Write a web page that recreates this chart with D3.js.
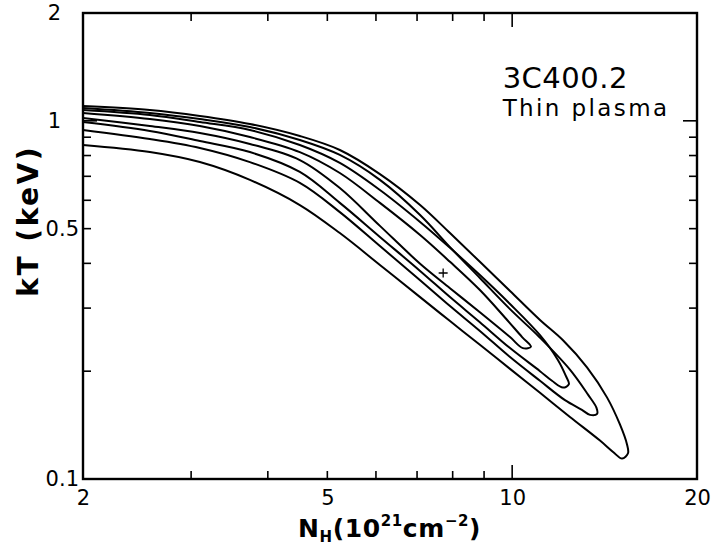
<!DOCTYPE html>
<html>
<head>
<meta charset="utf-8">
<script src="https://cdn.jsdelivr.net/npm/d3@7"></script>
<style>
  body { margin: 0; background: #fff; }
  svg { display: block; font-family: "DejaVu Sans", sans-serif; }
</style>
</head>
<body>
<div id="chart"></div>
<script>
// confidence contours, N_H in 10^21 cm^-2 and kT in keV
// each one runs along the upper branch to the tip, then back along the lower branch
const c1NH = [2.00, 2.57, 3.10, 3.74, 4.51, 5.24, 6.09, 7.08, 7.92, 8.86, 9.74, 10.38, 10.73,
              10.41, 9.92, 8.86, 7.92, 7.08, 6.09, 5.24, 4.51, 3.74, 3.10, 2.57, 2.00]
const c1KT = [1.052, 1.012, 0.967, 0.901, 0.818, 0.715, 0.590, 0.480, 0.404, 0.337, 0.282, 0.249, 0.234,
              0.232, 0.249, 0.292, 0.341, 0.399, 0.509, 0.649, 0.777, 0.862, 0.925, 0.967, 1.018]

const c2NH = [2.00, 2.57, 3.10, 3.74, 4.51, 5.24, 6.09, 7.08, 7.92, 8.86, 9.92, 11.10, 11.87, 12.23, 12.37,
              12.10, 11.61, 11.10, 9.92, 8.86, 7.92, 7.08, 6.09, 5.24, 4.51, 3.74, 3.10, 2.57, 2.00]
const c2KT = [1.072, 1.038, 0.992, 0.943, 0.856, 0.763, 0.641, 0.522, 0.442, 0.371, 0.308, 0.252, 0.215, 0.194, 0.184,
              0.180, 0.188, 0.200, 0.232, 0.274, 0.322, 0.381, 0.474, 0.590, 0.720, 0.818, 0.878, 0.937, 0.992]

const c3NH = [2.00, 2.57, 3.10, 3.74, 4.51, 5.24, 6.09, 7.08, 7.92, 8.86, 9.92, 11.10, 12.42, 13.29, 13.72, 13.75,
              13.39, 12.99, 12.19, 11.10, 9.92, 8.86, 7.92, 7.08, 6.09, 5.24, 4.51, 3.74, 3.10, 2.57, 2.00]
const c3KT = [1.086, 1.052, 1.012, 0.961, 0.884, 0.803, 0.684, 0.546, 0.444, 0.364, 0.298, 0.248, 0.202, 0.172, 0.158, 0.152,
              0.151, 0.156, 0.166, 0.188, 0.219, 0.259, 0.304, 0.359, 0.447, 0.556, 0.671, 0.767, 0.840, 0.890, 0.943]

const c4NH = [2.00, 2.57, 3.10, 3.74, 4.51, 5.24, 6.09, 7.08, 7.92, 8.86, 9.92, 11.10, 12.10, 13.24, 14.27, 14.98, 15.38, 15.44,
              15.10, 14.60, 13.90, 12.42, 11.10, 9.92, 8.86, 7.92, 7.08, 6.09, 5.24, 4.51, 3.74, 3.10, 2.57, 2.00]
const c4KT = [1.100, 1.072, 1.032, 0.980, 0.907, 0.829, 0.710, 0.582, 0.486, 0.404, 0.335, 0.278, 0.244, 0.205, 0.169, 0.142, 0.125, 0.118,
              0.114, 0.119, 0.128, 0.149, 0.174, 0.203, 0.237, 0.276, 0.322, 0.396, 0.486, 0.582, 0.684, 0.767, 0.818, 0.856]

const bestFit = { nh: 7.72, kt: 0.376 }

const xLabels = [2, 5, 10, 20]
const xMinor = [3, 4, 5, 6, 7, 8, 9]
const xMajor = [10]
const yLabels = [0.1, 0.5, 1, 2]
const yMinor = [0.2, 0.3, 0.4, 0.5, 0.6, 0.7, 0.8, 0.9]
const yMajor = [1]

const W = 723, H = 549
const margin = { top: 13, right: 26, bottom: 70, left: 83 }
const width = W - margin.left - margin.right
const height = H - margin.top - margin.bottom

const svg = d3.select("#chart").append("svg")
    .attr("width", W)
    .attr("height", H)

const g = svg.append("g")
    .attr("transform", `translate(${margin.left},${margin.top})`)

const x = d3.scaleLog().domain([2, 20]).range([0, width])
const y = d3.scaleLog().domain([0.1, 2]).range([height, 0])

// ticks, all pointing inward
const minorLen = 8, majorLen = 14
const tickG = g.append("g").attr("stroke", "#000").attr("stroke-width", 1.6)

const xTicks = xMinor.map(v => ({ v, len: minorLen })).concat(xMajor.map(v => ({ v, len: majorLen })))
const yTicks = yMinor.map(v => ({ v, len: minorLen })).concat(yMajor.map(v => ({ v, len: majorLen })))

tickG.selectAll("line.xb").data(xTicks).enter().append("line")
    .attr("x1", d => x(d.v)).attr("x2", d => x(d.v))
    .attr("y1", height).attr("y2", d => height - d.len)
tickG.selectAll("line.xt").data(xTicks).enter().append("line")
    .attr("x1", d => x(d.v)).attr("x2", d => x(d.v))
    .attr("y1", 0).attr("y2", d => d.len)
tickG.selectAll("line.yl").data(yTicks).enter().append("line")
    .attr("y1", d => y(d.v)).attr("y2", d => y(d.v))
    .attr("x1", 0).attr("x2", d => d.len)
tickG.selectAll("line.yr").data(yTicks).enter().append("line")
    .attr("y1", d => y(d.v)).attr("y2", d => y(d.v))
    .attr("x1", width).attr("x2", d => width - d.len)

// tick labels through d3 axes, no tick marks
const xAxis = g.append("g")
    .attr("transform", `translate(0,${height})`)
    .call(d3.axisBottom(x).tickValues(xLabels).tickSize(0).tickPadding(11).tickFormat(d3.format("d")))
const yAxis = g.append("g")
    .call(d3.axisLeft(y).tickValues(yLabels).tickSize(0).tickPadding(4).tickFormat(d => String(d)))

for (const ax of [xAxis, yAxis]) {
    ax.select(".domain").remove()
    ax.selectAll("text").attr("font-size", 21).attr("fill", "#000")
        .attr("font-family", "DejaVu Sans, sans-serif")
}
// whole numbers sit further out on the y axis
yAxis.selectAll(".tick text").attr("x", d => d >= 1 ? -22 : -4)

// frame
g.append("rect")
    .attr("width", width).attr("height", height)
    .attr("fill", "none").attr("stroke", "#000").attr("stroke-width", 2.4)

// contours
const contours = [[c1NH, c1KT], [c2NH, c2KT], [c3NH, c3KT], [c4NH, c4KT]]
    .map(([nh, kt]) => nh.map((v, i) => [v, kt[i]]))

const line = d3.line()
    .x(d => x(d[0]))
    .y(d => y(d[1]))
    .curve(d3.curveCatmullRom.alpha(0.5))

g.append("g").selectAll("path")
    .data(contours)
    .enter().append("path")
    .attr("d", line)
    .attr("fill", "none")
    .attr("stroke", "#000")
    .attr("stroke-width", 2)

// best fit marker
const bx = x(bestFit.nh), by = y(bestFit.kt)
g.append("path")
    .attr("d", `M${bx - 4.5},${by}H${bx + 4.5}M${bx},${by - 4.5}V${by + 4.5}`)
    .attr("stroke", "#000").attr("stroke-width", 1.3)

// annotation
g.append("text")
    .attr("x", x(9.65)).attr("y", 75)
    .attr("font-size", 29).attr("letter-spacing", 0.5)
    .text("3C400.2")
g.append("text")
    .attr("x", x(9.65)).attr("y", 103)
    .attr("font-size", 23).attr("letter-spacing", 2.4)
    .text("Thin plasma")

// axis titles
svg.append("text")
    .attr("transform", `translate(38,${margin.top + height * 0.446}) rotate(-90)`)
    .attr("text-anchor", "middle")
    .attr("font-size", 28).attr("font-weight", "bold").attr("letter-spacing", 2.5)
    .text("kT (keV)")

const xt = svg.append("text")
    .attr("x", 298).attr("y", 537)
    .attr("font-weight", "bold").attr("font-size", 25).attr("letter-spacing", 0.6)
xt.append("tspan").text("N")
xt.append("tspan").attr("font-size", 15).attr("dy", 5).text("H")
xt.append("tspan").attr("dy", -5).text("(10")
xt.append("tspan").attr("font-size", 15).attr("dy", -11).text("21")
xt.append("tspan").attr("dy", 11).text("cm")
xt.append("tspan").attr("font-size", 15).attr("dy", -11).text("−2")
xt.append("tspan").attr("dy", 11).text(")")
</script>
</body>
</html>
